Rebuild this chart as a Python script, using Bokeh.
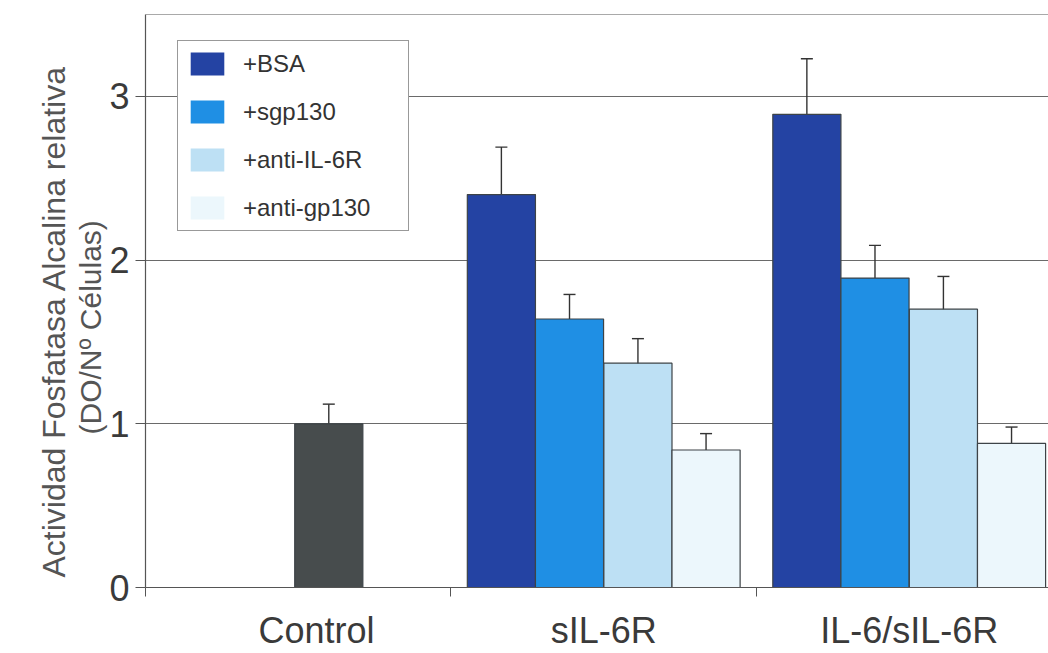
from bokeh.plotting import figure
from bokeh.models import (ColumnDataSource, Range1d, FixedTicker, Whisker, TeeHead,
                          Legend, LegendItem, Title, Span, LinearAxis)
from bokeh.embed import file_html
from bokeh.resources import INLINE

# ---- data ----
categories = ["Control", "sIL-6R", "IL-6/sIL-6R"]
series = ["+BSA", "+sgp130", "+anti-IL-6R", "+anti-gp130"]
control_value = [1.00]
control_err = [0.12]
sil6r_values = [2.40, 1.64, 1.37, 0.84]
sil6r_err = [0.29, 0.15, 0.15, 0.10]
il6_values = [2.89, 1.89, 1.70, 0.88]
il6_err = [0.34, 0.20, 0.20, 0.10]
y_ticks = [0, 1, 2, 3]

# ---- styling ----
series_colors = ["#2443a3", "#1f8fe4", "#bde0f4", "#ecf7fc"]
control_color = "#474c4d"
edge = "#3d4347"
FONT = "Liberation Sans"
offsets = [-0.335, -0.112, 0.112, 0.335]
bar_w = 0.223
control_offset = 0.10
label_pos = [0.56, 1.5, 2.5]

p = figure(width=1048, height=653, output_backend="svg", toolbar_location=None,
           x_range=Range1d(0, 2.956), y_range=Range1d(0, 3.5),
           min_border_left=145, min_border_right=0, min_border_top=14,
           min_border_bottom=65)
p.outline_line_color = None
p.background_fill_color = "white"
p.border_fill_color = "white"

# top frame line
p.add_layout(Span(location=3.5, dimension="width", line_color="#555555", line_width=1.2))

# bars
xs, tops, errs, colors = [], [], [], []
xs.append(0 + 0.5 + control_offset); tops.append(control_value[0]); errs.append(control_err[0]); colors.append(control_color)
for ci, (vals, es) in enumerate([(sil6r_values, sil6r_err), (il6_values, il6_err)], start=1):
    for si in range(len(series)):
        xs.append(ci + 0.5 + offsets[si]); tops.append(vals[si]); errs.append(es[si]); colors.append(series_colors[si])

src = ColumnDataSource(dict(x=xs, top=tops, color=colors,
                            upper=[t + e for t, e in zip(tops, errs)],
                            lower=[t - e for t, e in zip(tops, errs)]))
p.vbar(x="x", top="top", width=bar_w, bottom=0, source=src, fill_color="color",
       line_color=edge, line_width=1.2)

w = Whisker(base="x", upper="upper", lower="lower", source=src,
            line_color="#333333", line_width=1.4,
            upper_head=TeeHead(size=12, line_color="#333333", line_width=1.4),
            lower_head=TeeHead(size=12, line_color="#333333", line_width=1.4))
p.add_layout(w)

# legend (swatches without outline; proxy bars lie outside the visible range)
items = []
for s, c in zip(series, series_colors):
    r = p.vbar(x=[-1.0], top=[0.0], width=bar_w, fill_color=c, line_color=None)
    items.append(LegendItem(label=s, renderers=[r]))
legend = Legend(items=items, location=(32, 356), orientation="vertical",
                glyph_width=42, glyph_height=29, spacing=19, padding=8, margin=0,
                label_standoff=15, label_width=157,
                label_text_font=FONT, label_text_font_size="24px", label_text_color="#333333",
                border_line_color="#333333", border_line_width=1.2,
                background_fill_color="white", background_fill_alpha=1.0)
p.add_layout(legend, "center")

# grid
p.xgrid.grid_line_color = None
p.ygrid.grid_line_color = "#6a6a6a"
p.ygrid.grid_line_width = 1
p.ygrid.ticker = FixedTicker(ticks=y_ticks)

# y axis
p.yaxis.ticker = FixedTicker(ticks=y_ticks)
p.yaxis.axis_line_color = "#555555"
p.yaxis.axis_line_width = 1.2
p.yaxis.major_tick_out = 10
p.yaxis.major_tick_in = 0
p.yaxis.major_tick_line_color = "#555555"
p.yaxis.minor_tick_line_color = None
p.yaxis.major_label_text_font = FONT
p.yaxis.major_label_text_font_size = "36px"
p.yaxis.major_label_text_color = "#3a3a3a"
p.yaxis.major_label_standoff = 6

# x axis
p.xaxis.ticker = FixedTicker(ticks=label_pos, minor_ticks=[0, 1, 2, 3])
p.xaxis.major_label_overrides = {label_pos[i]: categories[i] for i in range(3)}
p.xaxis.major_tick_line_color = None
p.xaxis.major_tick_out = 0
p.xaxis.major_tick_in = 0
p.xaxis.minor_tick_out = 9
p.xaxis.minor_tick_in = 0
p.xaxis.minor_tick_line_color = "#555555"
p.xaxis.axis_line_color = "#555555"
p.xaxis.axis_line_width = 1.2
p.xaxis.major_label_text_font = FONT
p.xaxis.major_label_text_font_size = "36px"
p.xaxis.major_label_text_color = "#3a3a3a"
p.xaxis.major_label_standoff = 13

# invisible spacer axis (no ticks, no line) to push the y titles away from the tick labels
spacer_axis = LinearAxis(ticker=FixedTicker(ticks=[]), major_tick_out=31, major_tick_in=0,
                         major_tick_line_color=None, minor_tick_line_color=None,
                         minor_tick_out=0, axis_line_color=None, major_label_standoff=0)
p.add_layout(spacer_axis, "left")

# y axis titles (two lines, different sizes)
t2 = Title(text="(DO/Nº Células)", align="left", text_font=FONT, text_font_size="30px",
           text_font_style="normal", text_color="#555555", standoff=0, offset=153)
t1 = Title(text="Actividad Fosfatasa Alcalina relativa", align="left", text_font=FONT,
           text_font_size="32px", text_font_style="normal", text_color="#555555", standoff=0,
           offset=10)
p.add_layout(t2, "left")
p.add_layout(t1, "left")

open("out.html", "w").write(file_html(p, INLINE))
